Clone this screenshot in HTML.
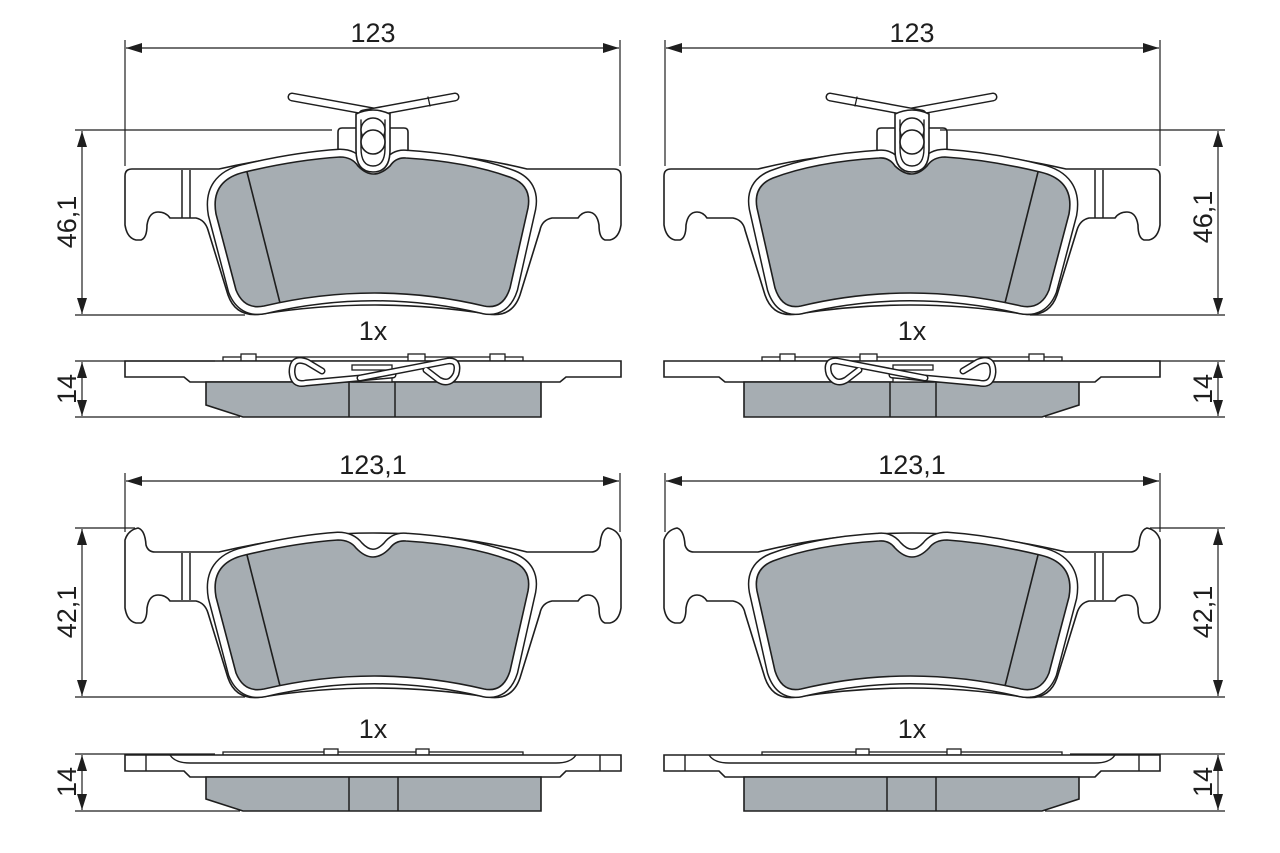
<!DOCTYPE html>
<html><head><meta charset="utf-8"><style>
html,body{margin:0;padding:0;background:#fff;}
svg{display:block;}
text{font-family:"Liberation Sans",sans-serif;font-size:27px;fill:#1e1e1e;}
</style></head><body>
<svg width="1280" height="853" viewBox="0 0 1280 853" xmlns="http://www.w3.org/2000/svg">
<defs>
<marker id="a" viewBox="0 0 16 10" refX="16" refY="5" markerWidth="16" markerHeight="10" markerUnits="userSpaceOnUse" orient="auto-start-reverse">
<path d="M0,0 L16,5 L0,10 Z" fill="#1e1e1e"/>
</marker>
<g id="padTop">
  <path d="M125,176 Q125,169 132,169 L219,169 Q280,155 338,152 L338,132 Q338,128 342,128 L404,128 Q408,128 408,132 L408,152 Q470,155 527,169 L614,169 Q621,169 621,176 L621,225 Q619,238 610,240 L605,240 Q599,238 599,225 Q597,212 588,212 Q582,212 578,218 L552,218 Q542,220 540,230 L520,295 Q512,318 488,314 Q375,296 262,314 Q236,318 228,295 L208,230 Q205,220 196,218 L170,218 Q166,212 158,212 Q149,212 147,225 Q147,238 141,240 L136,240 Q127,238 125,225 Z" fill="#fff" stroke="#1e1e1e" stroke-width="1.6"/>
  <path d="M245,172 Q295,160 340,157 Q352,157 358,166 Q373,182 390,166 Q396,157 406,158 Q470,162 512,178 Q532,186 528,208 L510,288 Q503,310 484,306 Q375,280 264,306 Q244,310 236,290 L216,214 Q210,180 245,172 Z" fill="none" stroke="#1e1e1e" stroke-width="17"/>
  <path d="M245,172 Q295,160 340,157 Q352,157 358,166 Q373,182 390,166 Q396,157 406,158 Q470,162 512,178 Q532,186 528,208 L510,288 Q503,310 484,306 Q375,280 264,306 Q244,310 236,290 L216,214 Q210,180 245,172 Z" fill="none" stroke="#fff" stroke-width="14"/>
  <path d="M245,172 Q295,160 340,157 Q352,157 358,166 Q373,182 390,166 Q396,157 406,158 Q470,162 512,178 Q532,186 528,208 L510,288 Q503,310 484,306 Q375,280 264,306 Q244,310 236,290 L216,214 Q210,180 245,172 Z" fill="#a6adb2" stroke="#1e1e1e" stroke-width="1.6"/>
  <line x1="247" y1="172" x2="280" y2="303" stroke="#1e1e1e" stroke-width="1.6"/>
  <g stroke="#1e1e1e" stroke-width="1.5" fill="none">
    <line x1="182" y1="170" x2="182" y2="218"/><line x1="190" y1="170" x2="190" y2="218"/>
  </g>
  <g stroke-linecap="round" fill="none">
    <line x1="292" y1="97" x2="385" y2="114" stroke="#1e1e1e" stroke-width="9"/>
    <line x1="292" y1="97" x2="385" y2="114" stroke="#fff" stroke-width="6"/>
    <line x1="363" y1="114" x2="455" y2="97" stroke="#1e1e1e" stroke-width="9"/>
    <line x1="363" y1="114" x2="455" y2="97" stroke="#fff" stroke-width="6"/>
    <line x1="428" y1="97" x2="430" y2="106" stroke="#1e1e1e" stroke-width="1.3"/>
    <path d="M356,114 L356,150 Q356,172 373,172 Q390,172 390,150 L390,114 Q373,106 356,114 Z" fill="#fff" stroke="#1e1e1e" stroke-width="1.6"/>
    <path d="M361,120 L361,148 Q361,166 373,166 Q385,166 385,148 L385,120" stroke="#1e1e1e" stroke-width="1.4"/>
    <circle cx="373" cy="130" r="12" stroke="#1e1e1e" stroke-width="1.5" fill="#fff"/>
    <circle cx="373" cy="142" r="12" stroke="#1e1e1e" stroke-width="1.6" fill="#fff"/>
  </g>
  <rect x="223" y="357" width="300" height="4" fill="#fff" stroke="#1e1e1e" stroke-width="1.3"/>
  <rect x="241" y="354" width="15" height="7" fill="#fff" stroke="#1e1e1e" stroke-width="1.3"/>
  <rect x="490" y="354" width="15" height="7" fill="#fff" stroke="#1e1e1e" stroke-width="1.3"/>
  <rect x="408" y="354" width="17" height="7" fill="#fff" stroke="#1e1e1e" stroke-width="1.3"/>
  <path d="M125,361 L621,361 L621,377 L566,377 L560,382 L190,382 L184,377 L125,377 Z" fill="#fff" stroke="#1e1e1e" stroke-width="1.6"/>
  <path d="M206,382 L541,382 L541,417 L243,417 L206,405 Z" fill="#a6adb2" stroke="#1e1e1e" stroke-width="1.6"/>
  <line x1="349" y1="382" x2="349" y2="417" stroke="#1e1e1e" stroke-width="1.5"/>
  <line x1="395" y1="382" x2="395" y2="417" stroke="#1e1e1e" stroke-width="1.5"/>
  <rect x="352" y="365" width="40" height="5" fill="#fff" stroke="#1e1e1e" stroke-width="1.3"/>
  <rect x="352" y="377" width="40" height="5" fill="#fff" stroke="#1e1e1e" stroke-width="1.3"/>
  <g fill="none" stroke-linecap="round" stroke-linejoin="round">
    <path d="M322,371 L307,362 Q292,356 292,372 Q293,386 306,383 L393,375" stroke="#1e1e1e" stroke-width="7"/>
    <path d="M322,371 L307,362 Q292,356 292,372 Q293,386 306,383 L393,375" stroke="#fff" stroke-width="4"/>
    <path d="M360,378 L448,361 Q460,360 456,374 Q450,386 439,380 L426,370" stroke="#1e1e1e" stroke-width="7"/>
    <path d="M360,378 L448,361 Q460,360 456,374 Q450,386 439,380 L426,370" stroke="#fff" stroke-width="4"/>
  </g>
</g>
<g id="padBot">
  <path d="M125,540 Q128,530 138,528 Q145,530 146,545 Q148,552 155,552 L219,552 Q300,533 373,533 Q450,533 527,552 L591,552 Q598,552 600,545 Q601,530 608,528 Q618,530 621,540 L621,608 Q619,621 610,623 L605,623 Q599,621 599,608 Q597,595 588,595 Q582,595 578,601 L552,601 Q542,603 540,613 L520,678 Q512,701 488,697 Q375,679 262,697 Q236,701 228,678 L208,613 Q205,603 196,601 L170,601 Q166,595 158,595 Q149,595 147,608 Q147,621 141,623 L136,623 Q127,621 125,608 Z" fill="#fff" stroke="#1e1e1e" stroke-width="1.6"/>
  <path d="M245,555 Q295,543 338,540 Q350,540 356,548 Q373,566 390,548 Q396,540 406,541 Q470,545 512,561 Q532,569 528,591 L510,671 Q503,693 484,689 Q375,663 264,689 Q244,693 236,673 L216,597 Q210,563 245,555 Z" fill="none" stroke="#1e1e1e" stroke-width="17"/>
  <path d="M245,555 Q295,543 338,540 Q350,540 356,548 Q373,566 390,548 Q396,540 406,541 Q470,545 512,561 Q532,569 528,591 L510,671 Q503,693 484,689 Q375,663 264,689 Q244,693 236,673 L216,597 Q210,563 245,555 Z" fill="none" stroke="#fff" stroke-width="14"/>
  <path d="M245,555 Q295,543 338,540 Q350,540 356,548 Q373,566 390,548 Q396,540 406,541 Q470,545 512,561 Q532,569 528,591 L510,671 Q503,693 484,689 Q375,663 264,689 Q244,693 236,673 L216,597 Q210,563 245,555 Z" fill="#a6adb2" stroke="#1e1e1e" stroke-width="1.6"/>
  <line x1="247" y1="555" x2="280" y2="686" stroke="#1e1e1e" stroke-width="1.6"/>
  <g stroke="#1e1e1e" stroke-width="1.5">
    <line x1="182" y1="553" x2="182" y2="600"/><line x1="190" y1="553" x2="190" y2="600"/>
  </g>
  <rect x="223" y="752" width="300" height="3" fill="#fff" stroke="#1e1e1e" stroke-width="1.3"/>
  <rect x="324" y="749" width="14" height="6" fill="#fff" stroke="#1e1e1e" stroke-width="1.3"/>
  <rect x="416" y="749" width="13" height="6" fill="#fff" stroke="#1e1e1e" stroke-width="1.3"/>
  <path d="M125,755 L621,755 L621,771 L566,771 L560,777 L190,777 L184,771 L125,771 Z" fill="#fff" stroke="#1e1e1e" stroke-width="1.6"/>
  <path d="M146,755 L146,771 M600,755 L600,771 M170,755 Q175,763 190,763 L556,763 Q571,763 576,755" fill="none" stroke="#1e1e1e" stroke-width="1.4"/>
  <path d="M206,777 L541,777 L541,811 L243,811 L206,799 Z" fill="#a6adb2" stroke="#1e1e1e" stroke-width="1.6"/>
  <line x1="349" y1="777" x2="349" y2="811" stroke="#1e1e1e" stroke-width="1.5"/>
  <line x1="398" y1="777" x2="398" y2="811" stroke="#1e1e1e" stroke-width="1.5"/>
</g>
</defs>

<use href="#padTop"/>
<use href="#padBot"/>
<g transform="translate(1285,0) scale(-1,1)">
  <use href="#padTop"/>
  <use href="#padBot"/>
</g>

<g stroke="#1e1e1e" stroke-width="1.2" fill="none">
  <line x1="125" y1="40" x2="125" y2="166"/><line x1="620" y1="40" x2="620" y2="166"/>
  <line x1="126" y1="48" x2="619" y2="48" marker-start="url(#a)" marker-end="url(#a)"/>
  <line x1="75" y1="130" x2="332" y2="130"/><line x1="75" y1="315" x2="245" y2="315"/>
  <line x1="82" y1="131" x2="82" y2="314" marker-start="url(#a)" marker-end="url(#a)"/>
  <line x1="75" y1="361" x2="215" y2="361"/><line x1="75" y1="417" x2="240" y2="417"/>
  <line x1="82" y1="362" x2="82" y2="416" marker-start="url(#a)" marker-end="url(#a)"/>
  <line x1="125" y1="473" x2="125" y2="532"/><line x1="620" y1="473" x2="620" y2="532"/>
  <line x1="126" y1="481" x2="619" y2="481" marker-start="url(#a)" marker-end="url(#a)"/>
  <line x1="75" y1="528" x2="135" y2="528"/><line x1="75" y1="697" x2="245" y2="697"/>
  <line x1="82" y1="529" x2="82" y2="696" marker-start="url(#a)" marker-end="url(#a)"/>
  <line x1="75" y1="754" x2="215" y2="754"/><line x1="75" y1="811" x2="240" y2="811"/>
  <line x1="82" y1="755" x2="82" y2="810" marker-start="url(#a)" marker-end="url(#a)"/>
  <line x1="665" y1="40" x2="665" y2="166"/><line x1="1160" y1="40" x2="1160" y2="166"/>
  <line x1="666" y1="48" x2="1159" y2="48" marker-start="url(#a)" marker-end="url(#a)"/>
  <line x1="940" y1="130" x2="1225" y2="130"/><line x1="1030" y1="315" x2="1225" y2="315"/>
  <line x1="1218" y1="131" x2="1218" y2="314" marker-start="url(#a)" marker-end="url(#a)"/>
  <line x1="1070" y1="361" x2="1225" y2="361"/><line x1="1045" y1="417" x2="1225" y2="417"/>
  <line x1="1218" y1="362" x2="1218" y2="416" marker-start="url(#a)" marker-end="url(#a)"/>
  <line x1="665" y1="473" x2="665" y2="532"/><line x1="1160" y1="473" x2="1160" y2="532"/>
  <line x1="666" y1="481" x2="1159" y2="481" marker-start="url(#a)" marker-end="url(#a)"/>
  <line x1="1150" y1="528" x2="1225" y2="528"/><line x1="1030" y1="697" x2="1225" y2="697"/>
  <line x1="1218" y1="529" x2="1218" y2="696" marker-start="url(#a)" marker-end="url(#a)"/>
  <line x1="1070" y1="754" x2="1225" y2="754"/><line x1="1045" y1="811" x2="1225" y2="811"/>
  <line x1="1218" y1="755" x2="1218" y2="810" marker-start="url(#a)" marker-end="url(#a)"/>
</g>

<g text-anchor="middle">
  <text x="373" y="42">123</text>
  <text x="912" y="42">123</text>
  <text x="373" y="340">1x</text>
  <text x="912" y="340">1x</text>
  <text x="373" y="474">123,1</text>
  <text x="912" y="474">123,1</text>
  <text x="373" y="738">1x</text>
  <text x="912" y="738">1x</text>
  <text transform="translate(76,222) rotate(-90)">46,1</text>
  <text transform="translate(76,389) rotate(-90)">14</text>
  <text transform="translate(76,612) rotate(-90)">42,1</text>
  <text transform="translate(76,782) rotate(-90)">14</text>
  <text transform="translate(1212,217) rotate(-90)">46,1</text>
  <text transform="translate(1212,389) rotate(-90)">14</text>
  <text transform="translate(1212,612) rotate(-90)">42,1</text>
  <text transform="translate(1212,782) rotate(-90)">14</text>
</g>
</svg>
</body></html>
